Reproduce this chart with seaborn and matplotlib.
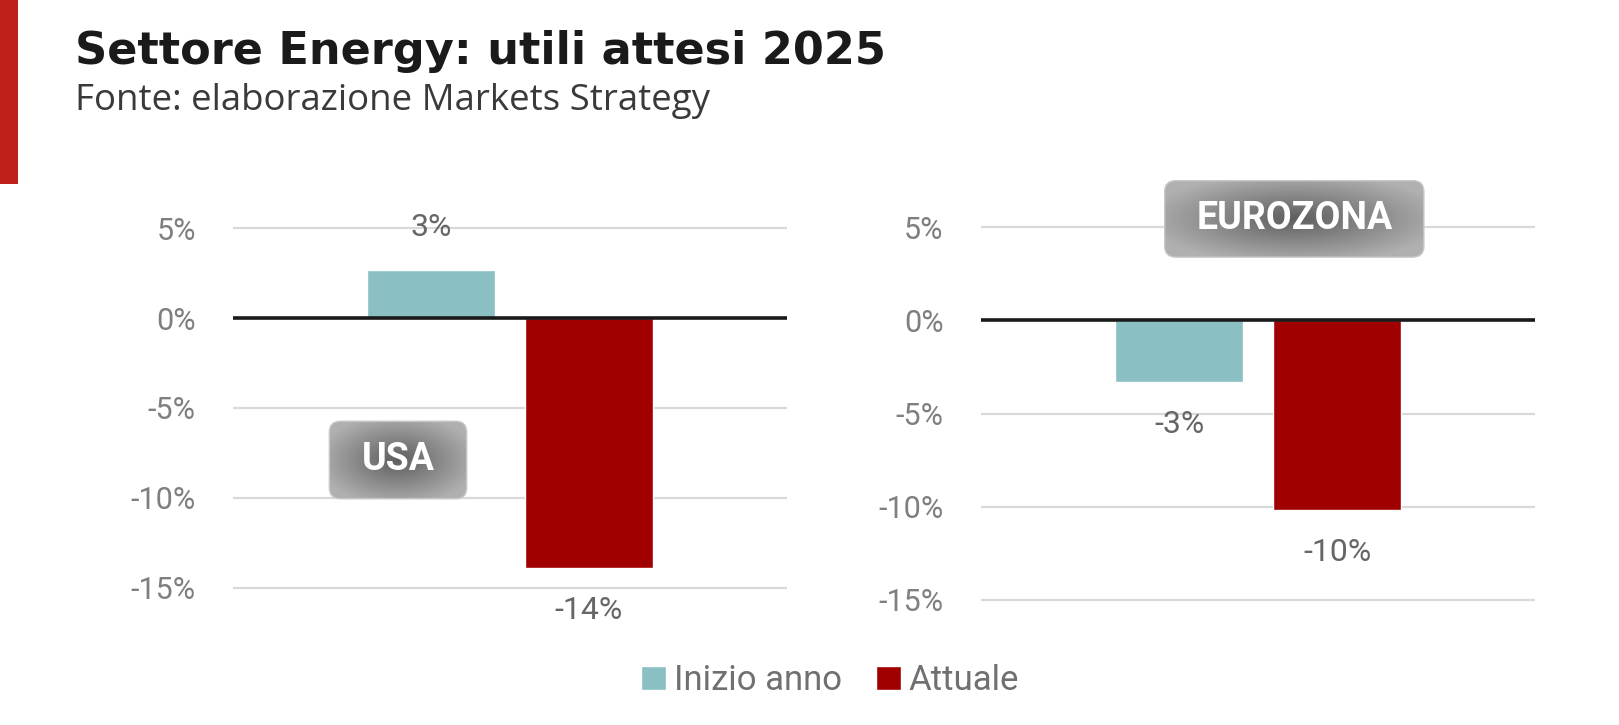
import numpy as np
import pandas as pd
import matplotlib
matplotlib.use('Agg')
import matplotlib.pyplot as plt
import seaborn as sns
from matplotlib.patches import FancyBboxPatch, Patch, Rectangle

# data (percent)
series = ['Inizio anno', 'Attuale']
usa_values = [2.7, -13.9]
euro_values = [-3.3, -10.2]
yticks = [5, 0, -5, -10, -15]
colors = ['#8abfc3', '#a00000']

df = pd.DataFrame({
    'regione': ['USA'] * 2 + ['EUROZONA'] * 2,
    'serie': series * 2,
    'valore': usa_values + euro_values,
})

sns.set_theme(style='white')
plt.rcParams['font.family'] = ['Roboto', 'DejaVu Sans']

W, H = 1619, 725
S = 1619 / 1568  # layout was measured on a 1568 px wide view
fig = plt.figure(figsize=(W / 100, H / 100), dpi=100)


def px(x0, y0, x1, y1):
    x0, y0, x1, y1 = x0 * S, y0 * S, x1 * S, y1 * S
    return [x0 / W, 1 - y1 / H, (x1 - x0) / W, (y1 - y0) / H]


YMIN, YMAX, EXTRA = -15, 5, 0.3

# (region, left, right, y of 5%, y of -15%)
panels = [('USA', 226, 762, 221, 569), ('EUROZONA', 950, 1487, 220, 581)]
for reg, x0, x1, ytop, ybot in panels:
    per = (ybot - ytop) / (YMAX - YMIN)
    ax = fig.add_axes(px(x0, ytop - EXTRA * per, x1, ybot + EXTRA * per))
    sub = df[df.regione == reg]
    sns.barplot(data=sub, x='regione', y='valore', hue='serie', hue_order=series,
                palette=colors, width=0.57, gap=0.19, saturation=1,
                legend=False, ax=ax)
    ax.set_ylim(YMIN - EXTRA, YMAX + EXTRA)
    ax.set_xlim(-0.5, 0.5)
    ax.set_yticks(yticks)
    ax.set_yticklabels([f'{t}%' for t in yticks])
    ax.set_xticks([])
    ax.set_xlabel('')
    ax.set_ylabel('')
    for s in ax.spines.values():
        s.set_visible(False)
    ax.grid(axis='y', color='#d9d9d9', lw=1.6)
    ax.set_axisbelow(True)
    ax.axhline(0, color='#1a1a1a', lw=2.6, zorder=3)
    ax.tick_params(axis='y', length=0, pad=27, labelsize=22, labelcolor='#7f7f7f')
    for c in ax.containers:
        ax.bar_label(c, fmt='{:.0f}%', padding=20, fontsize=23, color='#666666')


def box_label(text, x0, y0, x1, y1, size):
    bx = fig.add_axes(px(x0, y0, x1, y1))
    w, h = (x1 - x0) * S, (y1 - y0) * S
    bx.set_xlim(0, w)
    bx.set_ylim(0, h)
    bx.axis('off')
    gx, gy = np.meshgrid(np.linspace(-1, 1, 240), np.linspace(-1, 1, 120))
    r = np.clip(np.hypot(gx, gy) / 1.15, 0, 1)
    shade = 0.37 + 0.32 * r
    im = bx.imshow(shade, extent=[0, w, 0, h], cmap='gray', vmin=0, vmax=1,
                   aspect='auto', interpolation='bilinear')
    clip = FancyBboxPatch((1, 1), w - 2, h - 2, boxstyle='round,pad=0,rounding_size=11',
                          transform=bx.transData, facecolor='none',
                          edgecolor='#c8c8c8', lw=1)
    bx.add_patch(clip)
    im.set_clip_path(clip)
    bx.text(w / 2, h / 2, text, ha='center', va='center', color='white',
            fontsize=size, fontweight='bold')


box_label('USA', 318, 407, 453, 484, 27)
box_label('EUROZONA', 1127, 174, 1380, 250, 27)

# red accent strip on the left
fig.patches.append(Rectangle((0, 1 - 178 * S / H), 17 * S / W, 178 * S / H,
                             transform=fig.transFigure, facecolor='#c0201a',
                             edgecolor='none'))


def fit_text(x, y, s, width, **kw):
    t = fig.text(x * S / W, 1 - y * S / H, s, **kw)
    w = t.get_window_extent(fig.canvas.get_renderer()).width
    t.set_fontsize(t.get_fontsize() * width * S / w)
    return t


fit_text(73, 50, 'Settore Energy: utili attesi 2025', 784, fontsize=30,
         fontweight='bold', va='center', ha='left', color='#1a1a1a',
         family='DejaVu Sans')
fit_text(73, 98, 'Fonte: elaborazione Markets Strategy', 615, fontsize=22,
         va='center', ha='left', color='#3a3a3a', family='Open Sans')

handles = [Patch(facecolor=c, label=s) for c, s in zip(colors, series)]
fig.legend(handles=handles, loc='center', bbox_to_anchor=(804 * S / W, 1 - 659 * S / H),
           ncol=2, frameon=False, fontsize=25, handlelength=0.7, handleheight=0.7,
           handletextpad=0.23, columnspacing=1.0, labelcolor='#707070')

fig.savefig('out.png', dpi=100)
